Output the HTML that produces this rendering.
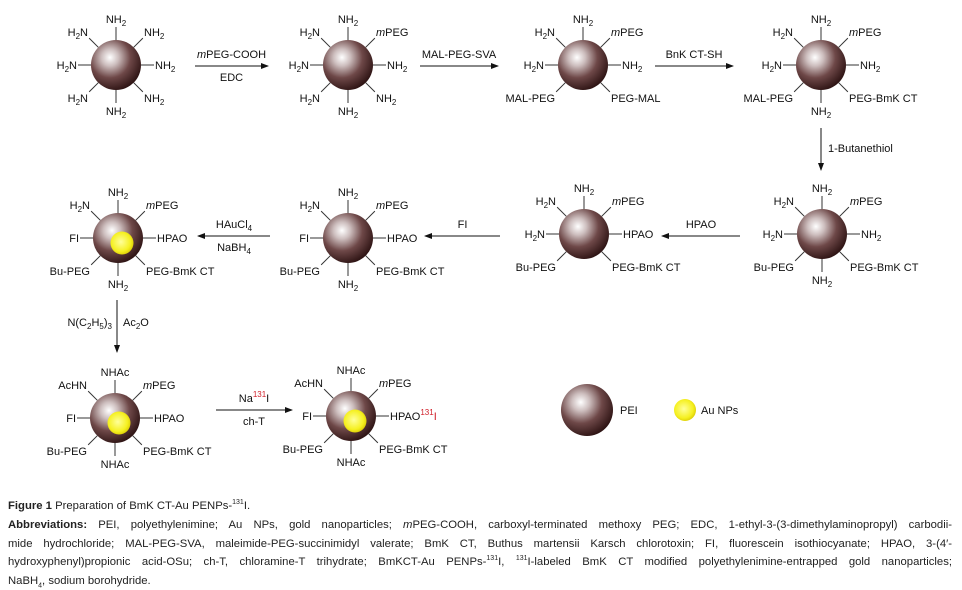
<!DOCTYPE html>
<html><head><meta charset="utf-8">
<style>
body{margin:0;background:#fff;width:962px;height:588px;overflow:hidden;position:relative}
svg{position:absolute;left:0;top:0}
svg text{font-family:"Liberation Sans",sans-serif;font-size:11px;fill:#111}
.cap{position:absolute;left:8px;width:944px;font-family:"Liberation Sans",sans-serif;font-size:11.3px;color:#222;line-height:18.6px;white-space:nowrap}
.ln{text-align:justify;text-align-last:justify;white-space:normal}
.cap b{font-weight:bold}
sup{font-size:7px;line-height:0}
sub{font-size:7px;line-height:0}
</style></head><body>
<svg id="s" width="962" height="480">
<defs>
<radialGradient id="pei" cx="0.38" cy="0.35" r="0.68">
<stop offset="0" stop-color="#ffffff"/><stop offset="0.25" stop-color="#cdbebe"/><stop offset="0.6" stop-color="#6e4848"/><stop offset="1" stop-color="#2e1414"/>
</radialGradient>
<radialGradient id="au" cx="0.45" cy="0.45" r="0.6">
<stop offset="0" stop-color="#ffff9a"/><stop offset="0.7" stop-color="#f5f020"/><stop offset="1" stop-color="#d8c800"/>
</radialGradient>
<marker id="ah" markerWidth="8" markerHeight="6" refX="7" refY="3" orient="auto"><path d="M0,0 L8,3 L0,6 z" fill="#111"/></marker>
</defs>
</svg>
<div class="cap" style="top:497px"><b>Figure 1</b> Preparation of BmK CT-Au PENPs-<sup>131</sup>I.</div>
<div class="cap" style="top:516px">
<div class="ln"><b>Abbreviations:</b> PEI, polyethylenimine; Au NPs, gold nanoparticles; <i>m</i>PEG-COOH, carboxyl-terminated methoxy PEG; EDC, 1-ethyl-3-(3-dimethylaminopropyl) carbodii-</div>
<div class="ln">mide hydrochloride; MAL-PEG-SVA, maleimide-PEG-succinimidyl valerate; BmK CT, Buthus martensii Karsch chlorotoxin; FI, fluorescein isothiocyanate; HPAO, 3-(4′-</div>
<div class="ln">hydroxyphenyl)propionic acid-OSu; ch-T, chloramine-T trihydrate; BmKCT-Au PENPs-<sup>131</sup>I, <sup>131</sup>I-labeled BmK CT modified polyethylenimine-entrapped gold nanoparticles;</div>
<div>NaBH<sub>4</sub>, sodium borohydride.</div>
</div>
<script>
const svg=document.getElementById('s');
const NS='http://www.w3.org/2000/svg';
function el(t,a,p){const e=document.createElementNS(NS,t);for(const k in a)e.setAttribute(k,a[k]);(p||svg).appendChild(e);return e;}
function txt(x,y,s,anchor,g,color){
  const t=el('text',{x:x,y:y,'text-anchor':anchor||'start'},g);
  if(color)t.setAttribute('fill',color);
  const re=/(_\d+|\^\d+|\*[^*]+\*|[^_^*]+)/g;let m;
  while((m=re.exec(s))){const p=m[0];
    if(p[0]=='_'){el('tspan',{dy:3,'font-size':8},t).textContent=p.slice(1);el('tspan',{dy:-3},t).textContent='\u200b';}
    else if(p[0]=='^'){const ts=el('tspan',{dy:-5,'font-size':8},t);ts.textContent=p.slice(1);if(color)ts.setAttribute('fill',color);el('tspan',{dy:5},t).textContent='\u200b';}
    else if(p[0]=='*'){el('tspan',{'font-style':'italic'},t).textContent=p.slice(1,-1);}
    else{const ts=el('tspan',{},t);ts.textContent=p;}
  }
  return t;
}
const dirs={n:[0,-1],s:[0,1],e:[1,0],w:[-1,0],ne:[.707,-.707],nw:[-.707,-.707],se:[.707,.707],sw:[-.707,.707]};
function sphere(name,cx,cy,labels,gold){
  const g=el('g',{});
  
  
  const r=25;
  for(const d in labels){
    const [dx,dy]=dirs[d];
    el('line',{x1:cx+dx*r,y1:cy+dy*r,x2:cx+dx*(r+13),y2:cy+dy*(r+13),stroke:'#333','stroke-width':1},g);
    const L=labels[d];let x,y,a;
    if(d=='n'){x=cx;y=cy-r-17;a='middle';}
    else if(d=='s'){x=cx;y=cy+r+25;a='middle';}
    else if(d=='e'){x=cx+r+14;y=cy+4;a='start';}
    else if(d=='w'){x=cx-r-14;y=cy+4;a='end';}
    else if(d=='ne'){x=cx+r+3;y=cy-r-4;a='start';}
    else if(d=='nw'){x=cx-r-3;y=cy-r-4;a='end';}
    else if(d=='se'){x=cx+r+3;y=cy+r+12;a='start';}
    else {x=cx-r-3;y=cy+r+12;a='end';}
    if(Array.isArray(L)){const t=txt(x,y,L[0],a,g);const ts=el('tspan',{dy:-5,'font-size':8,fill:'#d0202a'},t);ts.textContent=L[1];const t2=el('tspan',{dy:5,fill:'#d0202a'},t);t2.textContent='I';}
    else txt(x,y,L,a,g);
  }
  el('circle',{cx:cx,cy:cy,r:r,fill:'url(#pei)'},g);
  if(gold)el('circle',{cx:cx+4,cy:cy+5,r:11.5,fill:'url(#au)'},g);
}
function arrow(name,x1,y1,x2,y2,top,bot,topColor){
  const g=el('g',{});
  
  
  el('line',{x1:x1,y1:y1,x2:x2,y2:y2,stroke:'#111','stroke-width':1,'marker-end':'url(#ah)'},g);
  const mx=(x1+x2)/2;
  if(y1==y2){
    if(top)txt(mx,y1-8,top,'middle',g,topColor);
    if(bot)txt(mx,y1+15,bot,'middle',g);
  }
  return g;
}
const base={n:'NH_2',ne:'NH_2',e:'NH_2',se:'NH_2',s:'NH_2',sw:'H_2N',w:'H_2N',nw:'H_2N'};
sphere('pei-amine',116,65,base);
sphere('pei-mpeg',348,65,Object.assign({},base,{ne:'*m*PEG'}));
sphere('pei-mal',583,65,{n:'NH_2',ne:'*m*PEG',e:'NH_2',se:'PEG-MAL',sw:'MAL-PEG',w:'H_2N',nw:'H_2N'});
sphere('pei-bmk',821,65,{n:'NH_2',ne:'*m*PEG',e:'NH_2',se:'PEG-BmK CT',s:'NH_2',sw:'MAL-PEG',w:'H_2N',nw:'H_2N'});
sphere('pei-bu',822,234,{n:'NH_2',ne:'*m*PEG',e:'NH_2',se:'PEG-BmK CT',s:'NH_2',sw:'Bu-PEG',w:'H_2N',nw:'H_2N'});
sphere('pei-hpao',584,234,{n:'NH_2',ne:'*m*PEG',e:'HPAO',se:'PEG-BmK CT',sw:'Bu-PEG',w:'H_2N',nw:'H_2N'});
sphere('pei-fi',348,238,{n:'NH_2',ne:'*m*PEG',e:'HPAO',se:'PEG-BmK CT',s:'NH_2',sw:'Bu-PEG',w:'FI',nw:'H_2N'});
sphere('pei-au',118,238,{n:'NH_2',ne:'*m*PEG',e:'HPAO',se:'PEG-BmK CT',s:'NH_2',sw:'Bu-PEG',w:'FI',nw:'H_2N'},true);
sphere('pei-au-ac',115,418,{n:'NHAc',ne:'*m*PEG',e:'HPAO',se:'PEG-BmK CT',s:'NHAc',sw:'Bu-PEG',w:'FI',nw:'AcHN'},true);
sphere('pei-au-131i',351,416,{n:'NHAc',ne:'*m*PEG',e:['HPAO','131'],se:'PEG-BmK CT',s:'NHAc',sw:'Bu-PEG',w:'FI',nw:'AcHN'},true);
arrow('arrow-mpeg',195,66,268,66,'*m*PEG-COOH','EDC');
arrow('arrow-mal',420,66,498,66,'MAL-PEG-SVA');
arrow('arrow-bmk',655,66,733,66,'BnK CT-SH');
const va=arrow('arrow-butanethiol',821,128,821,170);txt(828,152,'1-Butanethiol','start',va);
arrow('arrow-hpao',740,236,662,236,'HPAO');
arrow('arrow-fi',500,236,425,236,'FI');
arrow('arrow-au',270,236,198,236,'HAuCl_4','NaBH_4');
const vb=arrow('arrow-acetyl',117,300,117,352);txt(112,326,'N(C_2H_5)_3','end',vb);txt(123,326,'Ac_2O','start',vb);
arrow('arrow-label',216,410,292,410,'Na^131I','ch-T','#d0202a');
const lg=el('g',{});


el('circle',{cx:587,cy:410,r:26,fill:'url(#pei)'},lg);
txt(620,414,'PEI','start',lg).setAttribute('font-size','9');
el('circle',{cx:685,cy:410,r:11,fill:'url(#au)'},lg);
txt(701,414,'Au NPs','start',lg).setAttribute('font-size','9');
</script>
</body></html>
